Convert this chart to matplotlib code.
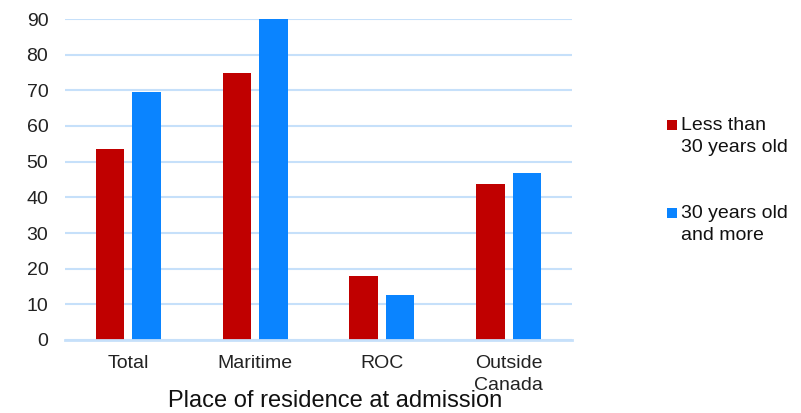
import matplotlib.pyplot as plt
import numpy as np
from matplotlib.patches import Rectangle

# ---------------------------------------------------
# DATA
# ---------------------------------------------------
places = ["Total", "Maritime", "ROC", "Outside\nCanada"]
under_30 = [53.6, 74.9, 17.9, 43.8]
over_30 = [69.6, 90.0, 12.5, 46.7]
series_labels = ["Less than\n30 years old", "30 years old\nand more"]
y_ticks = [0, 10, 20, 30, 40, 50, 60, 70, 80, 90]

RED = "#c00000"
BLUE = "#0a84ff"
GRID = "#c6e0fa"

plt.rcParams["font.family"] = ["Liberation Sans", "DejaVu Sans"]

# ---------------------------------------------------
# FIGURE
# ---------------------------------------------------
fig = plt.figure(figsize=(8.01, 4.13), dpi=100)
ax = fig.add_axes([65 / 801, 1 - 340 / 413, 507 / 801, 321 / 413])

x = np.arange(len(places))
width = 0.225
offset = 0.144

ax.bar(x - offset, under_30, width, color=RED, zorder=3)
ax.bar(x + offset, over_30, width, color=BLUE, zorder=3)

# ---------------------------------------------------
# AXES STYLE
# ---------------------------------------------------
ax.set_xlim(-0.5, len(places) - 0.5)
ax.set_ylim(0, 90)
ax.set_yticks(y_ticks)
ax.set_xticks(x)
ax.set_xticklabels(places, linespacing=1.35, va="top")
ax.yaxis.grid(True, color=GRID, linewidth=1.5, zorder=0)
ax.set_axisbelow(True)

for side in ["top", "right", "left"]:
    ax.spines[side].set_visible(False)
ax.spines["bottom"].set_color(GRID)
ax.spines["bottom"].set_linewidth(2)
ax.spines["bottom"].set_zorder(4)

ax.tick_params(axis="both", length=0, labelsize=14, colors="#222222")
ax.tick_params(axis="y", pad=12)
ax.tick_params(axis="x", pad=11)

fig.text(335 / 801, 1 - 401 / 413, "Place of residence at admission",
         fontsize=17, ha="center", va="center", color="#111111")

# ---------------------------------------------------
# LEGEND
# ---------------------------------------------------
legend_tops = [118, 206]
for top, color, label in zip(legend_tops, [RED, BLUE], series_labels):
    fig.patches.append(Rectangle((667 / 801, 1 - (top + 12) / 413),
                                 10 / 801, 10 / 413,
                                 transform=fig.transFigure,
                                 facecolor=color, edgecolor="none"))
    fig.text(681 / 801, 1 - (top - 1) / 413, label, fontsize=14,
             ha="left", va="top", linespacing=1.35, color="#111111")

plt.savefig("out.png", dpi=100)
